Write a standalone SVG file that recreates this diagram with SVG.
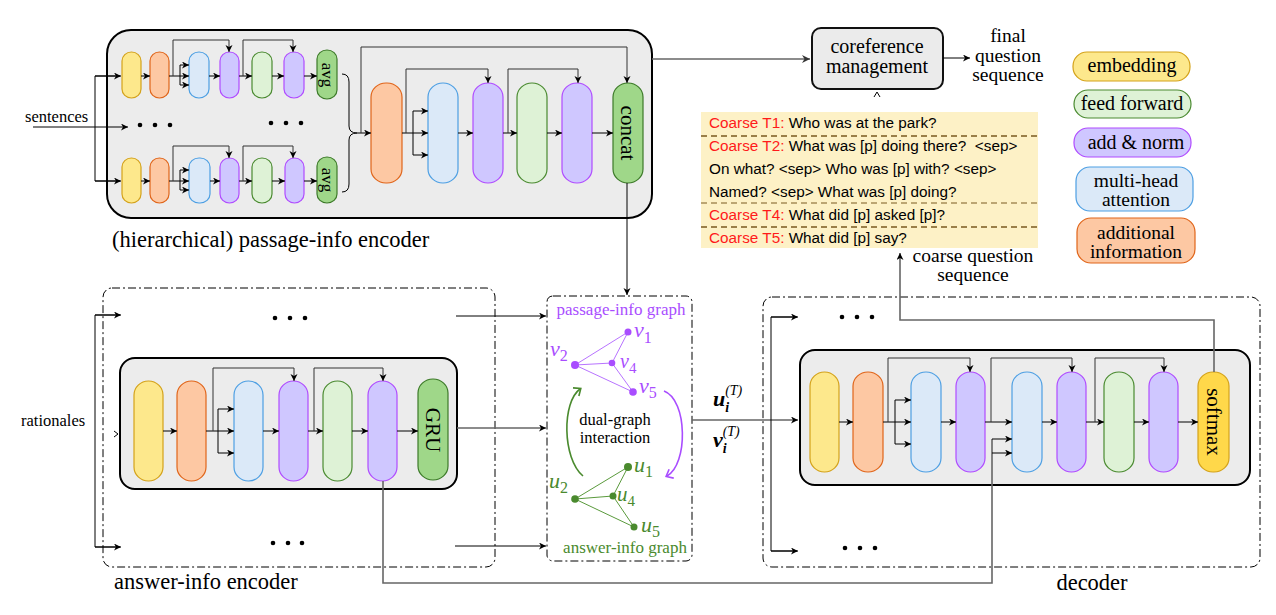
<svg xmlns="http://www.w3.org/2000/svg" width="1276" height="615" viewBox="0 0 1276 615">
<style>
.box{fill:#ececec;stroke:#000;stroke-width:2}
.p{stroke-width:1.2}
.yel{fill:#fde88c;stroke:#d4a21a}
.org{fill:#fdc8a3;stroke:#e0651a}
.blu{fill:#dbe9f8;stroke:#4d9fe3}
.pur{fill:#cfc7ff;stroke:#b04bff}
.lgr{fill:#def2d6;stroke:#4a8a30}
.dgr{fill:#9fd789;stroke:#3c7a28}
.smx{fill:#ffd84a;stroke:#d4a21a}
.ln{fill:none;stroke:#000;stroke-width:1}
.sk{fill:none;stroke:#333;stroke-width:1}
.gl{fill:none;stroke:#666;stroke-width:1.6}
.dd{fill:none;stroke:#000;stroke-width:1;stroke-dasharray:8 3 2 3}
.t{font-family:"Liberation Serif",serif;fill:#000}
.s{font-family:"Liberation Sans",Arial,sans-serif;font-size:15.3px;fill:#000}
.red{fill:#ff1a1a}
.pg{fill:#a94dff}
.ag{fill:#4a8a2e}
.m{font-family:"Liberation Serif",serif;font-style:italic}
.sep{stroke:#7a5a20;fill:none;stroke-dasharray:6 4}
</style>
<defs>
<marker id="a" markerWidth="8" markerHeight="8" refX="7" refY="3.5" orient="auto" markerUnits="userSpaceOnUse">
<path d="M0,0 L7,3.5 L0,7 L2,3.5 Z" fill="#000"/>
</marker>
<marker id="ag" markerWidth="9" markerHeight="9" refX="8" refY="4" orient="auto" markerUnits="userSpaceOnUse">
<path d="M0,0 L8,4 L0,8 L2.5,4 Z" fill="#333"/>
</marker>
<marker id="agr" markerWidth="12" markerHeight="12" refX="6" refY="6" orient="auto" markerUnits="userSpaceOnUse">
<path d="M1,1 L7,6 L1,11" fill="none" stroke="#4a8a2e" stroke-width="1.6"/>
</marker>
<marker id="apu" markerWidth="12" markerHeight="12" refX="6" refY="6" orient="auto" markerUnits="userSpaceOnUse">
<path d="M1,1 L7,6 L1,11" fill="none" stroke="#a94dff" stroke-width="1.6"/>
</marker>
</defs>

<!-- ===== passage-info encoder ===== -->
<g id="passage-encoder">
<rect class="box" x="107" y="30" width="545" height="188" rx="24"/>
<text class="t" x="112" y="247" font-size="22.5">(hierarchical) passage-info encoder</text>
</g>
<g id="pe-row1">
<rect class="p yel" x="122" y="52" width="19" height="46" rx="9.5" ry="9"/>
<rect class="p org" x="150" y="52" width="19" height="46" rx="9.5" ry="9"/>
<rect class="p blu" x="189" y="52" width="20" height="46" rx="10" ry="9"/>
<rect class="p pur" x="220" y="52" width="19" height="46" rx="9.5" ry="9"/>
<rect class="p lgr" x="252" y="52" width="20" height="46" rx="10" ry="9"/>
<rect class="p pur" x="284" y="52" width="20" height="46" rx="10" ry="9"/>
<rect class="p dgr" x="317" y="50" width="20" height="49" rx="10" ry="9"/>
<text class="t" font-size="17" text-anchor="middle" dominant-baseline="central" transform="translate(327,75) rotate(90)">avg</text>
</g>
<g id="pe-row2">
<rect class="p yel" x="122" y="158" width="19" height="45" rx="9.5" ry="9"/>
<rect class="p org" x="150" y="158" width="19" height="45" rx="9.5" ry="9"/>
<rect class="p blu" x="189" y="158" width="21" height="45" rx="10" ry="9"/>
<rect class="p pur" x="220" y="158" width="19" height="45" rx="9.5" ry="9"/>
<rect class="p lgr" x="252" y="158" width="20" height="45" rx="10" ry="9"/>
<rect class="p pur" x="285" y="158" width="19" height="45" rx="9.5" ry="9"/>
<rect class="p dgr" x="317" y="157" width="20" height="46" rx="10" ry="9"/>
<text class="t" font-size="17" text-anchor="middle" dominant-baseline="central" transform="translate(327,180) rotate(90)">avg</text>
</g>
<g id="pe-main">
<rect class="p org" x="371" y="83" width="31" height="100" rx="15" ry="14"/>
<rect class="p blu" x="428" y="83" width="30" height="100" rx="15" ry="14"/>
<rect class="p pur" x="473" y="83" width="30" height="100" rx="15" ry="14"/>
<rect class="p lgr" x="517" y="83" width="30" height="100" rx="15" ry="14"/>
<rect class="p pur" x="562" y="83" width="30" height="100" rx="15" ry="14"/>
<rect class="p dgr" x="613" y="83" width="30" height="100" rx="15" ry="14"/>
<text class="t" font-size="21" text-anchor="middle" dominant-baseline="central" transform="translate(628,133) rotate(90)">concat</text>
</g>
<g id="pe-labels">
<text class="t" x="25" y="122" font-size="16.5">sentences</text>
<circle cx="140" cy="125" r="2.3"/><circle cx="155" cy="125" r="2.3"/><circle cx="170" cy="125" r="2.3"/>
<circle cx="271" cy="123" r="2.3"/><circle cx="286" cy="123" r="2.3"/><circle cx="301" cy="123" r="2.3"/>
</g>

<!-- ===== coreference / final ===== -->
<g id="coreference">
<rect x="812" y="28" width="131" height="61" rx="9" fill="#ebebeb" stroke="#111" stroke-width="2"/>
<text class="t" x="877" y="53" font-size="20" text-anchor="middle">coreference</text>
<text class="t" x="877" y="73" font-size="20" text-anchor="middle">management</text>
</g>
<g id="final-question">
<text class="t" x="1008" y="42" font-size="19.5" text-anchor="middle">final</text>
<text class="t" x="1008" y="62" font-size="19.5" text-anchor="middle">question</text>
<text class="t" x="1008" y="81" font-size="19.5" text-anchor="middle">sequence</text>
</g>

<!-- ===== coarse question box ===== -->
<g id="coarse-questions">
<rect x="701" y="112" width="337" height="136" fill="#fdf1c6"/>
<path class="sep" d="M701,136 H1038" stroke-width="1.6"/>
<path class="sep" d="M701,203 H1038" stroke-width="1"/>
<path class="sep" d="M701,227 H1038" stroke-width="1.6"/>
<text class="s" x="709" y="128"><tspan class="red">Coarse T1:</tspan> Who was at the park?</text>
<text class="s" x="709" y="151" xml:space="preserve"><tspan class="red">Coarse T2:</tspan> What was [p] doing there?  &lt;sep&gt;</text>
<text class="s" x="709" y="174">On what? &lt;sep&gt; Who was [p] with? &lt;sep&gt;</text>
<text class="s" x="709" y="197">Named? &lt;sep&gt; What was [p] doing?</text>
<text class="s" x="709" y="220"><tspan class="red">Coarse T4:</tspan> What did [p] asked [p]?</text>
<text class="s" x="709" y="243"><tspan class="red">Coarse T5:</tspan> What did [p] say?</text>
<text class="t" x="973" y="262" font-size="19.5" text-anchor="middle">coarse question</text>
<text class="t" x="973" y="281" font-size="19.5" text-anchor="middle">sequence</text>
</g>

<!-- ===== legend ===== -->
<g id="legend-embedding">
<rect class="p yel" x="1073" y="52" width="117" height="29" rx="14"/>
<text class="t" x="1132" y="72" font-size="20" text-anchor="middle">embedding</text>
</g>
<g id="legend-feed-forward">
<rect class="p lgr" x="1074" y="90" width="117" height="28" rx="14"/>
<text class="t" x="1132" y="110" font-size="20" text-anchor="middle">feed forward</text>
</g>
<g id="legend-add-norm">
<rect class="p pur" x="1074" y="128" width="117" height="29" rx="14"/>
<text class="t" x="1136" y="149" font-size="20" text-anchor="middle">add &amp; norm</text>
</g>
<g id="legend-attention">
<rect class="p blu" x="1076" y="167" width="117" height="44" rx="14"/>
<text class="t" x="1136" y="187" font-size="19.5" text-anchor="middle">multi-head</text>
<text class="t" x="1136" y="206" font-size="19.5" text-anchor="middle">attention</text>
</g>
<g id="legend-additional">
<rect class="p org" x="1077" y="218" width="118" height="45" rx="14"/>
<text class="t" x="1136" y="239" font-size="19.5" text-anchor="middle">additional</text>
<text class="t" x="1136" y="258" font-size="19.5" text-anchor="middle">information</text>
</g>

<!-- ===== answer-info encoder ===== -->
<g id="answer-encoder">
<rect class="dd" x="103" y="288" width="392" height="279" rx="9"/>
<text class="t" x="114" y="589" font-size="22.5">answer-info encoder</text>
<text class="t" x="21" y="426" font-size="16.5">rationales</text>
<circle cx="275" cy="318" r="2.3"/><circle cx="290" cy="318" r="2.3"/><circle cx="305" cy="318" r="2.3"/>
<circle cx="273" cy="543" r="2.3"/><circle cx="288" cy="543" r="2.3"/><circle cx="302" cy="543" r="2.3"/>
</g>
<g id="ae-main">
<rect class="box" x="120" y="358" width="337" height="131" rx="15"/>
<rect class="p yel" x="134" y="381" width="29" height="100" rx="14.5" ry="14"/>
<rect class="p org" x="177" y="381" width="29" height="100" rx="14.5" ry="14"/>
<rect class="p blu" x="234" y="381" width="29" height="100" rx="14.5" ry="14"/>
<rect class="p pur" x="279" y="381" width="29" height="100" rx="14.5" ry="14"/>
<rect class="p lgr" x="323" y="381" width="29" height="100" rx="14.5" ry="14"/>
<rect class="p pur" x="368" y="381" width="29" height="100" rx="14.5" ry="14"/>
<rect class="p dgr" x="418" y="379" width="30" height="101" rx="15" ry="14"/>
<text class="t" font-size="21" text-anchor="middle" dominant-baseline="central" transform="translate(433,430) rotate(90)">GRU</text>
</g>

<!-- ===== graph ===== -->
<g id="dual-graph">
<rect class="dd" x="547" y="296" width="145" height="265" rx="6"/>
<text class="t pg" x="621" y="315" font-size="17" text-anchor="middle">passage-info graph</text>
<text class="t ag" x="625" y="553" font-size="17" text-anchor="middle">answer-info graph</text>
<g stroke="#b873ff" stroke-width="1" fill="none">
<path d="M575,365 L628,332 M575,365 L612,363 M575,365 L633,392 M612,363 L628,332 M612,363 L633,392"/>
</g>
<g class="pg"><circle cx="628" cy="332" r="3.5"/><circle cx="575" cy="365" r="4"/><circle cx="612" cy="363" r="3.3"/><circle cx="633" cy="392" r="3.8"/></g>
<g class="m pg">
<text x="634" y="337" font-size="22">v<tspan font-size="16" font-style="normal" dy="6">1</tspan></text>
<text x="550" y="356" font-size="22">v<tspan font-size="16" font-style="normal" dy="5">2</tspan></text>
<text x="620" y="368" font-size="20">v<tspan font-size="15" font-style="normal" dy="5">4</tspan></text>
<text x="639" y="393" font-size="22">v<tspan font-size="16" font-style="normal" dy="5">5</tspan></text>
</g>
<g stroke="#5a9a3c" stroke-width="1" fill="none">
<path d="M575,499 L628,467 M575,499 L613,496 M575,499 L634,527 M613,496 L628,467 M613,496 L634,527"/>
</g>
<g class="ag"><circle cx="628" cy="467" r="4"/><circle cx="575" cy="499" r="3.8"/><circle cx="613" cy="496" r="3.5"/><circle cx="634" cy="527" r="3.5"/></g>
<g class="m ag">
<text x="634" y="472" font-size="22">u<tspan font-size="16" font-style="normal" dy="5">1</tspan></text>
<text x="549" y="488" font-size="22">u<tspan font-size="16" font-style="normal" dy="5">2</tspan></text>
<text x="617" y="501" font-size="21">u<tspan font-size="15" font-style="normal" dy="5">4</tspan></text>
<text x="641" y="532" font-size="22">u<tspan font-size="16" font-style="normal" dy="5">5</tspan></text>
</g>
<path d="M583,476 C562,458 562,402 580,389" fill="none" stroke="#4a8a2e" stroke-width="1.6" marker-end="url(#agr)"/>
<path d="M664,391 C688,400 688,465 667,476" fill="none" stroke="#a94dff" stroke-width="1.6" marker-end="url(#apu)"/>
<text class="t" x="615" y="425" font-size="16.5" text-anchor="middle">dual-graph</text>
<text class="t" x="615" y="443" font-size="16.5" text-anchor="middle">interaction</text>
</g>

<g id="uv-labels" class="m" font-weight="bold">
<text x="713" y="406" font-size="22">u<tspan font-size="14" dy="6">i</tspan><tspan font-size="14" font-weight="normal" dx="-4" dy="-17">(T)</tspan></text>
<text x="713" y="447" font-size="22">v<tspan font-size="14" dy="6">i</tspan><tspan font-size="14" font-weight="normal" dx="-4" dy="-17">(T)</tspan></text>
</g>

<!-- ===== decoder ===== -->
<g id="decoder">
<rect class="dd" x="763" y="297" width="497" height="270" rx="9"/>
<text class="t" x="1092" y="590" font-size="22.5" text-anchor="middle">decoder</text>
<circle cx="842" cy="317" r="2.3"/><circle cx="857" cy="317" r="2.3"/><circle cx="872" cy="317" r="2.3"/>
<circle cx="845" cy="548" r="2.3"/><circle cx="860" cy="548" r="2.3"/><circle cx="875" cy="548" r="2.3"/>
</g>
<g id="de-main">
<rect class="box" x="800" y="350" width="450" height="135" rx="15"/>
<rect class="p yel" x="810" y="372" width="29" height="100" rx="14.5" ry="14"/>
<rect class="p org" x="853" y="372" width="30" height="100" rx="15" ry="14"/>
<rect class="p blu" x="911" y="372" width="30" height="100" rx="15" ry="14"/>
<rect class="p pur" x="956" y="372" width="29" height="100" rx="14.5" ry="14"/>
<rect class="p blu" x="1012" y="372" width="30" height="100" rx="15" ry="14"/>
<rect class="p pur" x="1057" y="372" width="29" height="100" rx="14.5" ry="14"/>
<rect class="p lgr" x="1104" y="372" width="30" height="100" rx="15" ry="14"/>
<rect class="p pur" x="1149" y="372" width="29" height="100" rx="14.5" ry="14"/>
<rect class="p smx" x="1198" y="372" width="31" height="100" rx="15" ry="14"/>
<text class="t" font-size="21" text-anchor="middle" dominant-baseline="central" transform="translate(1214,422) rotate(90)">softmax</text>
</g>

<!-- ===== connectors ===== -->
<g id="connectors">
<path class="ln" d="M33,127 H128" marker-end="url(#a)"/>
<path class="ln" d="M120,76 H95 V181 H120" />
<path class="ln" d="M95,76 H121" marker-end="url(#a)"/>
<path class="ln" d="M95,181 H121" marker-end="url(#a)"/>
<path class="ln" d="M141,76 H150" marker-end="url(#a)"/>
<path class="ln" d="M169,76 H189" marker-end="url(#a)"/>
<path class="ln" d="M180,65 V85"/>
<path class="ln" d="M180,65 H189" marker-end="url(#a)"/>
<path class="ln" d="M180,85 H189" marker-end="url(#a)"/>
<path class="sk" d="M173,76 V40 H229 V52" marker-end="url(#a)"/>
<path class="ln" d="M209,76 H220" marker-end="url(#a)"/>
<path class="ln" d="M239,76 H252" marker-end="url(#a)"/>
<path class="sk" d="M243,76 V40 H293 V52" marker-end="url(#a)"/>
<path class="ln" d="M272,76 H284" marker-end="url(#a)"/>
<path class="ln" d="M304,76 H317" marker-end="url(#a)"/>
<path class="ln" d="M141,181 H150" marker-end="url(#a)"/>
<path class="ln" d="M169,181 H189" marker-end="url(#a)"/>
<path class="ln" d="M180,170 V190"/>
<path class="ln" d="M180,170 H189" marker-end="url(#a)"/>
<path class="ln" d="M180,190 H189" marker-end="url(#a)"/>
<path class="sk" d="M173,181 V146 H229 V158" marker-end="url(#a)"/>
<path class="ln" d="M210,181 H220" marker-end="url(#a)"/>
<path class="ln" d="M239,181 H252" marker-end="url(#a)"/>
<path class="sk" d="M243,181 V146 H293 V158" marker-end="url(#a)"/>
<path class="ln" d="M272,181 H285" marker-end="url(#a)"/>
<path class="ln" d="M304,181 H317" marker-end="url(#a)"/>
<path class="ln" d="M342,74 Q349,74 349,82 L349,126 Q349,133 357,133 Q349,133 349,140 L349,184 Q349,192 342,192"/>
<path class="ln" d="M357,133 H371" marker-end="url(#a)"/>
<path class="sk" d="M361,133 V47 H627 V83" marker-end="url(#a)"/>
<path class="ln" d="M402,133 H428" marker-end="url(#a)"/>
<path class="ln" d="M413,111 V155"/>
<path class="ln" d="M413,111 H428" marker-end="url(#a)"/>
<path class="ln" d="M413,155 H428" marker-end="url(#a)"/>
<path class="sk" d="M406,133 V69 H488 V83" marker-end="url(#a)"/>
<path class="ln" d="M458,133 H473" marker-end="url(#a)"/>
<path class="ln" d="M503,133 H517" marker-end="url(#a)"/>
<path class="sk" d="M508,133 V69 H578 V83" marker-end="url(#a)"/>
<path class="ln" d="M547,133 H562" marker-end="url(#a)"/>
<path class="ln" d="M592,133 H613" marker-end="url(#a)"/>
<path class="gl" d="M652,59 H810" marker-end="url(#ag)"/>
<path class="ln" d="M627,183 V295" marker-end="url(#a)"/>
<path class="ln" d="M943,58 H970" marker-end="url(#a)"/>
<path class="ln" d="M874,97 L877,92 L880,97" stroke-width="0.8"/>
<path class="ln" d="M120,315 H95 V547 H120"/>
<path class="ln" d="M95,315 H121" marker-end="url(#a)"/>
<path class="ln" d="M95,547 H121" marker-end="url(#a)"/>
<path class="ln" d="M114,431 L118,434 L114,437"/>
<path class="ln" d="M163,431 H177" marker-end="url(#a)"/>
<path class="ln" d="M206,431 H234" marker-end="url(#a)"/>
<path class="ln" d="M218,409 V453"/>
<path class="ln" d="M218,409 H234" marker-end="url(#a)"/>
<path class="ln" d="M218,453 H234" marker-end="url(#a)"/>
<path class="sk" d="M213,431 V368 H294 V381" marker-end="url(#a)"/>
<path class="ln" d="M263,431 H279" marker-end="url(#a)"/>
<path class="ln" d="M308,431 H323" marker-end="url(#a)"/>
<path class="sk" d="M314,431 V368 H383 V381" marker-end="url(#a)"/>
<path class="ln" d="M352,431 H368" marker-end="url(#a)"/>
<path class="ln" d="M397,431 H418" marker-end="url(#a)"/>
<path class="ln" d="M456,316 H546" marker-end="url(#a)"/>
<path class="gl" d="M457,428 H546" stroke-width="1.2" marker-end="url(#a)"/>
<path class="ln" d="M455,546 H546" marker-end="url(#a)"/>
<path class="gl" d="M692,420 H798" marker-end="url(#a)"/>
<path class="ln" d="M797,317 H771 V551 H797"/>
<path class="ln" d="M771,317 H798" marker-end="url(#a)"/>
<path class="ln" d="M771,551 H798" marker-end="url(#a)"/>
<path class="ln" d="M839,422 H853" marker-end="url(#a)"/>
<path class="ln" d="M883,422 H911" marker-end="url(#a)"/>
<path class="ln" d="M895,400 V444"/>
<path class="ln" d="M895,400 H911" marker-end="url(#a)"/>
<path class="ln" d="M895,444 H911" marker-end="url(#a)"/>
<path class="sk" d="M888,422 V358 H970 V372" marker-end="url(#a)"/>
<path class="ln" d="M941,422 H956" marker-end="url(#a)"/>
<path class="ln" d="M985,422 H1012" marker-end="url(#a)"/>
<path class="sk" d="M991,422 V358 H1072 V372" marker-end="url(#a)"/>
<path class="ln" d="M1042,422 H1057" marker-end="url(#a)"/>
<path class="ln" d="M1086,422 H1104" marker-end="url(#a)"/>
<path class="sk" d="M1095,422 V358 H1164 V372" marker-end="url(#a)"/>
<path class="ln" d="M1134,422 H1149" marker-end="url(#a)"/>
<path class="ln" d="M1178,422 H1198" marker-end="url(#a)"/>
<path class="gl" d="M383,481 V583 H992 V439" stroke-width="1.4"/>
<path class="ln" d="M992,439 H1012" marker-end="url(#a)"/>
<path class="ln" d="M992,453 H1012" marker-end="url(#a)"/>
<path class="gl" d="M1214,372 V320 H900 V253" stroke-width="1.4" marker-end="url(#a)"/>
</g>
</svg>
